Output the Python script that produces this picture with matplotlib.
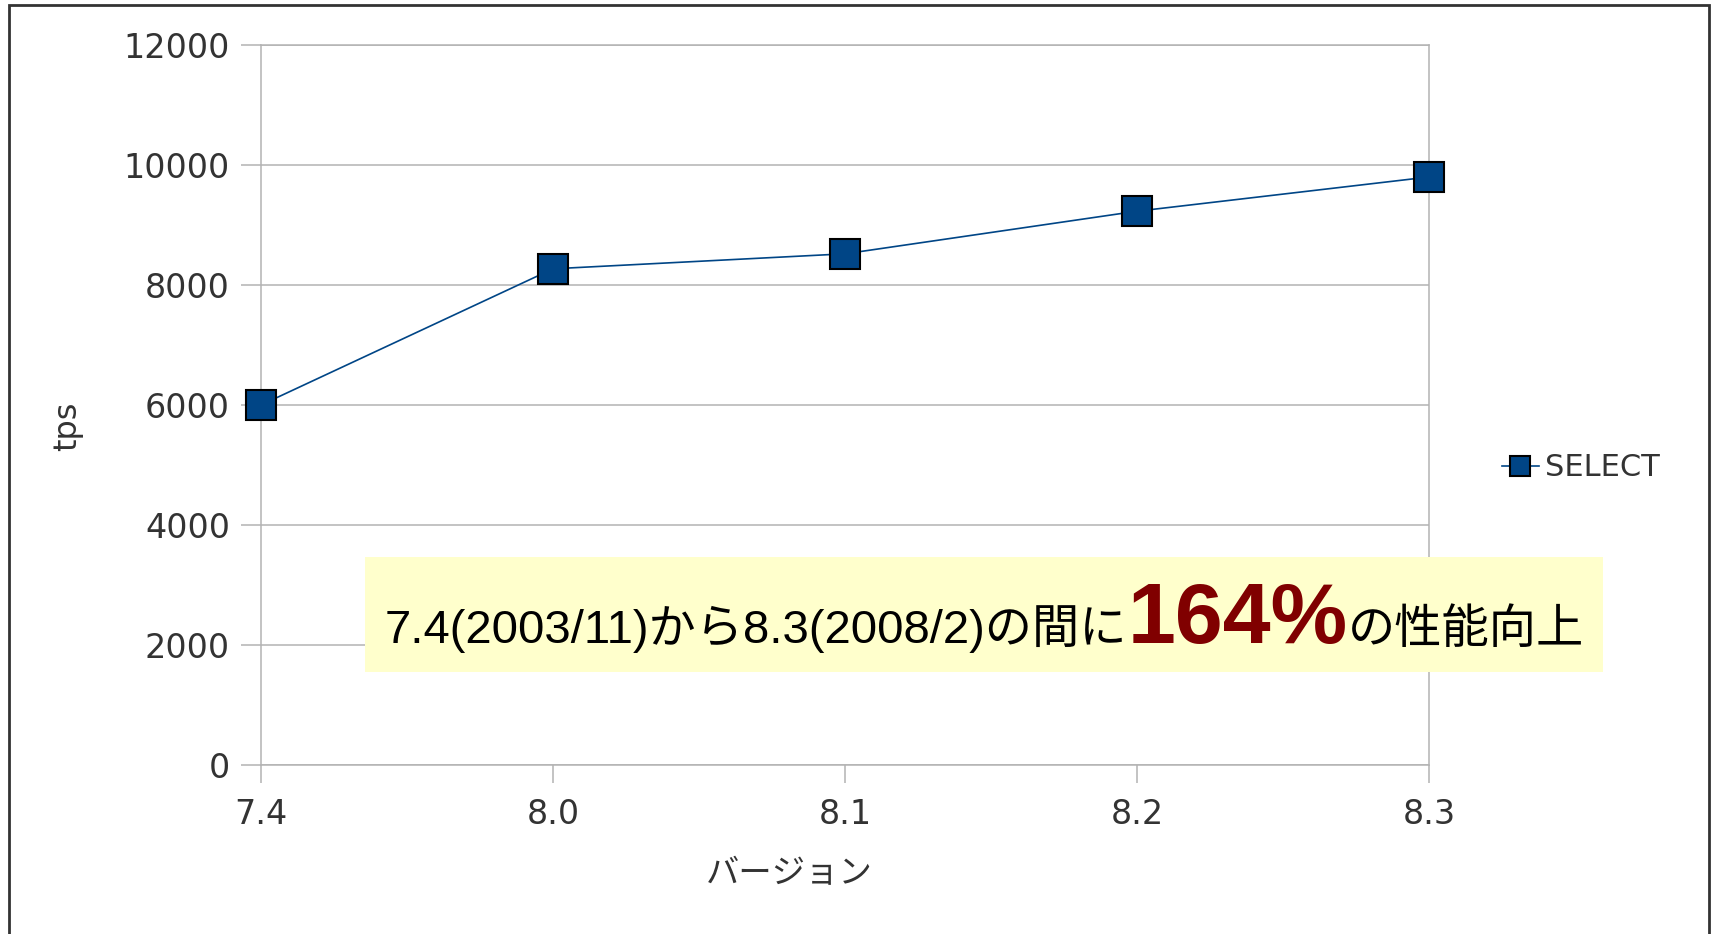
import matplotlib
matplotlib.use("Agg")
import matplotlib.pyplot as plt
from matplotlib.patches import Rectangle

# --- data ---
versions = ["7.4", "8.0", "8.1", "8.2", "8.3"]
tps = [6000, 8270, 8520, 9230, 9800]
y_ticks = [0, 2000, 4000, 6000, 8000, 10000, 12000]
series_name = "SELECT"
x_label = "バージョン"
y_label = "tps"
note_parts = ["7.4(2003/11)から8.3(2008/2)の間に", "164%", "の性能向上"]

plt.rcParams['font.family'] = ['DejaVu Sans', 'Noto Sans CJK JP']

W, H = 1714, 934
fig = plt.figure(figsize=(W / 100, H / 100), dpi=100)
ax = fig.add_axes([261 / W, 1 - 765 / H, (1429 - 261) / W, (765 - 45) / H])

grid_c = '#b3b3b3'
text_c = '#333333'
blue = '#004586'

x = list(range(len(versions)))
ax.plot(x, tps, color=blue, lw=1.2, marker='s', ms=21, mfc=blue, mec='black',
        mew=1.5, label=series_name, zorder=3, clip_on=False)
ax.set_xlim(0, len(versions) - 1)
ax.set_ylim(0, 12000)
ax.set_xticks(x, versions)
ax.set_yticks(y_ticks)
ax.grid(axis='y', color=grid_c, lw=1.1)
ax.set_axisbelow(True)
for s in ax.spines.values():
    s.set_color(grid_c)
    s.set_linewidth(1.1)
ax.tick_params(axis='y', length=14.4, width=1.1, color=grid_c, pad=8,
               labelsize=24, labelcolor=text_c)
ax.tick_params(axis='x', length=13, width=1.1, color=grid_c, pad=11,
               labelsize=24, labelcolor=text_c)
for lbl in ax.get_yticklabels():
    lbl.set_va('center_baseline')

ax.set_xlabel(x_label, fontsize=24, color=text_c)
ax.xaxis.set_label_coords((789 - 261) / 1168, -(874 - 765) / 720)
ax.xaxis.label.set_va('center')
ax.set_ylabel(y_label, fontsize=23, color=text_c)
ax.yaxis.set_label_coords((68 - 261) / 1168, (765 - 426) / 720)
ax.yaxis.label.set_va('center')

ax.legend(loc='center left', bbox_to_anchor=(1502 / W, 1 - 468 / H),
          bbox_transform=fig.transFigure, frameon=False, fontsize=22,
          markerscale=0.67, handlelength=1.2, handletextpad=0.2,
          borderpad=0, borderaxespad=0, labelcolor=text_c)

# --- yellow note box ---
fig.add_artist(Rectangle((365 / W, 1 - 672 / H), (1603 - 365) / W, 115 / H,
                         transform=fig.transFigure, fc='#ffffcc', ec='none', zorder=5))
seg_styles = [dict(fontsize=34, color='black'),
              dict(fontsize=62, color='#800000', fontweight='bold'),
              dict(fontsize=34, color='black')]
fig.canvas.draw()
r = fig.canvas.get_renderer()
x0 = 385 / W
for part, st in zip(note_parts, seg_styles):
    t = fig.text(x0, 1 - 643 / H, part, ha='left', va='baseline',
                 family=['Liberation Sans', 'Noto Sans CJK JP'], zorder=6, **st)
    bb = t.get_window_extent(r)
    x0 = bb.x1 / fig.bbox.width

# --- slide frame ---
fig.add_artist(Rectangle((9 / W, -0.05), (1709 - 9) / W, 1 - 5 / H + 0.05,
                         transform=fig.transFigure, fill=False, ec='#333333', lw=2, zorder=7))

fig.savefig("out.png", dpi=100)
